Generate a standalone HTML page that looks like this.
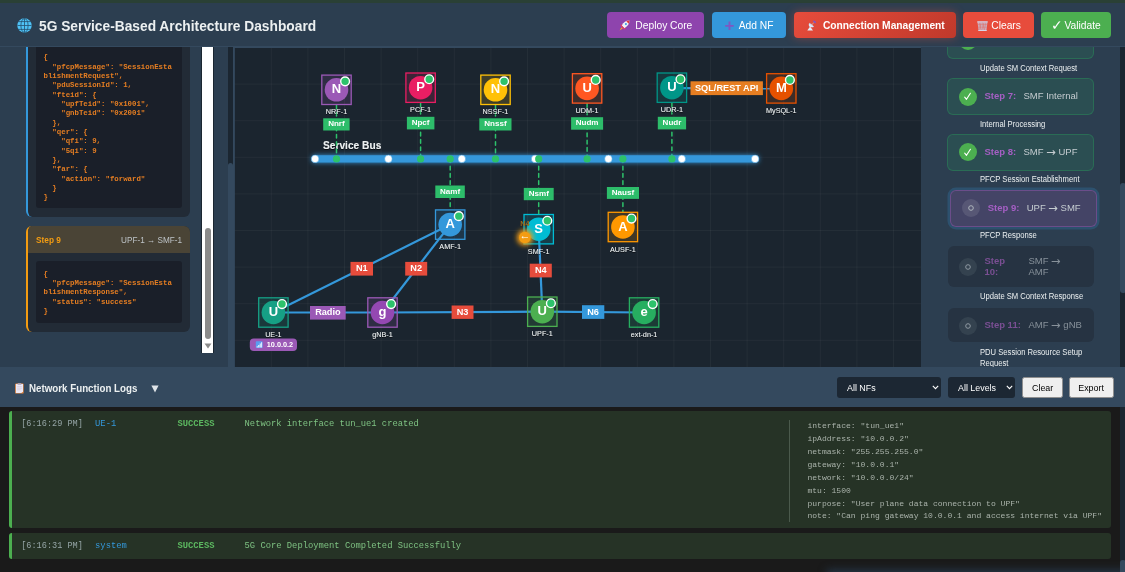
<!DOCTYPE html>
<html lang="en"><head><meta charset="utf-8"><title>5G Service-Based Architecture Dashboard</title>
<style>
*{box-sizing:border-box;margin:0;padding:0}
html,body{width:1125px;height:572px;overflow:hidden;background:#2c3e50;font-family:"Liberation Sans",sans-serif;color:#ecf0f1}
.abs{position:absolute}
#top{left:0;top:0;width:1125px;height:3px;background:#2a4035}
#hdr{left:0;top:3px;width:1125px;height:43px;background:#2c3e50}
#hdrline{left:0;top:46px;width:1125px;height:1px;background:#34495e;z-index:5}
#title{left:39px;top:16px;transform-origin:0 50%;transform:scaleX(0.888);font-size:15.5px;font-weight:bold;color:#ecf0f1;white-space:nowrap;line-height:20px}
.btn{position:absolute;top:12px;height:26px;border-radius:4px;color:#fff;font-size:10.25px;line-height:28.2px;white-space:nowrap;text-align:center}
.plus{color:#7e57c2;font-weight:bold;font-size:17px;line-height:10px;vertical-align:-1.5px;margin-right:2px}
#left{left:0;top:47px;width:233px;height:320px;background:#2c3e50;overflow:hidden}
#canvas{left:233px;top:47px;width:688px;height:320px;background:#1b252f;overflow:hidden}
#right{left:921px;top:47px;width:204px;height:320px;background:#2c3e50;overflow:hidden}
#loghdr{left:0;top:367px;width:1125px;height:40px;background:#34495e}
#logs{left:0;top:407px;width:1125px;height:165px;background:#1a1a1a;overflow:hidden}
.card{position:absolute;left:26px;width:164px;background:#222b36;border-radius:6px;overflow:hidden}
.code{position:absolute;width:145.5px;background:#1a1f29;border-radius:3px}
pre{font-family:"Liberation Mono",monospace;font-weight:bold;font-size:7.38px;line-height:9.35px;color:#e67e22;position:absolute;left:7.5px;white-space:pre}
.step{position:absolute;left:26px;width:147px;height:37px;border-radius:6px;border:1px solid rgba(39,174,96,0.3);background:rgba(39,174,96,0.15)}
.step .ic{position:absolute;left:10.8px;top:8.3px;width:18px;height:18px;border-radius:50%;background:#4caf50}
.step .t1{position:absolute;left:36.5px;top:10.2px;font-size:11px;line-height:14px;font-weight:bold;color:#a55fc4;white-space:nowrap}
.step .t2{position:absolute;left:75.5px;top:10.2px;font-size:11px;line-height:14px;color:#c5ccd0;white-space:nowrap}
.desc{position:absolute;left:58.5px;transform-origin:0 50%;transform:scaleX(0.905);font-size:8.45px;line-height:11px;color:#ecf0f1;white-space:nowrap}
.le{position:absolute;left:9px;width:1102px;background:#263326;border-left:3px solid #4caf50;border-radius:3px}
.lt{position:absolute;font-family:"Liberation Mono",monospace;font-size:8.8px;line-height:10px;white-space:pre}
.ld{position:absolute;font-family:"Liberation Mono",monospace;font-size:8.06px;line-height:12.95px;white-space:pre;color:#aab3ab}
.sel{position:absolute;top:10px;height:21px;background:#1c2733;border-radius:3px;color:#fff;font-size:9.76px;line-height:21px;padding-left:10px}
.sel span,.lb span{display:inline-block;transform-origin:0 50%;transform:scaleX(0.91);white-space:nowrap}
.lb span{transform-origin:50% 50%}
.lb{position:absolute;top:10px;height:21px;background:#efefef;border:1px solid #8f8f8f;border-radius:2.5px;color:#000;font-size:9.76px;line-height:19px;text-align:center}
.step .t1,.step .t2{font-size:9.5px}
.step.act{border:1px solid rgba(155,89,182,0.45);background:rgba(155,89,182,0.22);box-shadow:0 0 0 2.5px rgba(52,152,219,0.22)}
.step.pen{border:none;background:#263342;width:146px}
.step .ic.pend{background:rgba(255,255,255,0.1)}
.step .ic.pend{color:#aeb6bd}
.step.pen .t1{color:#7a4f93}
.step.pen .t2{color:#87919a}
.step.pen .ic.pend{background:#34424f}
.step.pen .ic.pend{color:#8f99a2}
svg text{font-family:"Liberation Sans",sans-serif}
.step u{text-decoration:none;font-family:"DejaVu Sans",sans-serif;font-size:11.5px;line-height:1px;vertical-align:-0.5px}
.step.pen .t1{left:36.6px}
</style></head>
<body>

<div id="top" class="abs"></div>
<div id="hdr" class="abs"></div>
<div id="hdrline" class="abs"></div>
<svg class="abs" style="left:17px;top:17.5px" width="15" height="15" viewBox="0 0 15 15">
<circle cx="7.5" cy="7.5" r="7.2" fill="#4fc3f7"/>
<g stroke="#24506e" stroke-width="0.8" fill="none">
<path d="M1.5 3.6H13.5M0.4 7.5H14.6M1.5 11.4H13.5M7.5 0.5V14.5"/>
<ellipse cx="7.5" cy="7.5" rx="3.6" ry="7"/>
</g></svg>
<div id="title" class="abs">5G Service-Based Architecture Dashboard</div>
<div class="btn" style="left:607px;width:97px;background:#8e44ad;"><svg width="11" height="11" viewBox="0 0 11 11" style="vertical-align:-2.2px"><path d="M2.6 7.3L0.5 10.5L3.7 8.4Z" fill="#f5a623"/><path d="M3.7 4.2L1 5L2.9 6.4ZM6.8 7.3L6 10L4.6 8.1Z" fill="#ea3a60"/><path d="M10.4 0.6C7.5 0.4 4.5 2.2 2.8 5.6L5.4 8.2C8.8 6.5 10.6 3.5 10.4 0.6Z" fill="#eef1f5"/><path d="M2.8 5.6L5.4 8.2L4.5 8.9L2.1 6.5Z" fill="#ea3a60"/><path d="M10.4 0.6C9.3 0.5 8.3 0.8 7.3 1.3L9.7 3.7C10.2 2.7 10.5 1.7 10.4 0.6Z" fill="#e53935"/><circle cx="6.9" cy="4.1" r="1.05" fill="#3f9be6"/></svg>&nbsp;&nbsp;Deploy Core</div>
<div class="btn" style="left:712px;width:74px;background:#3498db;"><span class="plus">+</span> Add NF</div>
<div class="btn" style="left:794px;width:162px;background:linear-gradient(135deg,#e74c3c,#c0392b);box-shadow:0 0 10px rgba(231,76,60,0.42);"><svg width="10" height="12" viewBox="0 0 10 12" style="vertical-align:-2.5px;margin-left:2px"><path d="M0.3 10.6L3.1 6.6L6 10.6Z" fill="#e3ecf8"/><path d="M2 3.2Q0.6 8.4 6.8 7Q5.4 4 2 3.2Z" fill="#d9e6f6"/><path d="M2 3.2Q5.4 4 6.8 7" stroke="#b9cbe6" stroke-width="0.6" fill="none"/><path d="M4.4 5.2L7 2.4" stroke="#d8b4a6" stroke-width="0.8"/><ellipse cx="7.5" cy="1.8" rx="1.7" ry="0.9" transform="rotate(40 7.5 1.8)" fill="#7e57c2"/></svg>&nbsp; <b>Connection Management</b></div>
<div class="btn" style="left:963px;width:70.5px;background:#e74c3c;"><svg width="11" height="10" viewBox="0 0 11 10" style="vertical-align:-1.9px;margin-left:1px;margin-right:-2px"><path d="M0.4 0.6H10.6L9.4 9.8H1.6Z" fill="#c6c4dc" fill-opacity="0.8"/><path d="M0.3 0.9H10.7M1.3 9.5H9.7" stroke="#d6d5e8" stroke-width="1"/><path d="M2.2 1.5L4 8.8M4 1.5L2.6 8.8M5.5 1.5L7.2 8.8M7 1.5L5 8.8M8.8 1.5L7.4 8.8M1 3.6H10M1.2 6.2H9.8" stroke="#e2685c" stroke-width="0.55" stroke-opacity="0.75" fill="none"/></svg>&nbsp; Clears</div>
<div class="btn" style="left:1040.5px;width:70.5px;background:#4caf50;"><span style="font-size:13.5px;line-height:10px;vertical-align:-0.5px;margin-right:-1px">&#10003;</span> Validate</div>

<div id="left" class="abs">
 <div class="card" style="top:-20px;height:189.5px;border-left:2.5px solid #3498db">
  <div class="code" style="top:10px;height:170.5px;left:8px"><pre style="top:16.2px">{
  &quot;pfcpMessage&quot;: &quot;SessionEsta
blishmentRequest&quot;,
  &quot;pduSessionId&quot;: 1,
  &quot;fteid&quot;: {
    &quot;upfTeid&quot;: &quot;0x1001&quot;,
    &quot;gnbTeid&quot;: &quot;0x2001&quot;
  },
  &quot;qer&quot;: {
    &quot;qfi&quot;: 9,
    &quot;5qi&quot;: 9
  },
  &quot;far&quot;: {
    &quot;action&quot;: &quot;forward&quot;
  }
}</pre></div>
 </div>
 <div class="card" style="top:179px;height:105.5px;border-left:2.5px solid #f39c12">
  <div class="abs" style="left:0;top:0;width:164px;height:26.5px;background:#4a4436"></div>
  <div class="abs" style="left:8px;top:7.8px;font-size:9.3px;line-height:12px;font-weight:bold;color:#f39c12;transform-origin:0 50%;transform:scaleX(0.89);white-space:nowrap">Step 9</div>
  <div class="abs" style="right:8px;top:8px;font-size:9px;line-height:12px;color:#bdc3c7;white-space:nowrap;transform-origin:100% 50%;transform:scaleX(0.91)">UPF-1 &rarr; SMF-1</div>
  <div class="code" style="top:35px;height:61.5px;left:8px"><pre style="top:8.5px">{
  &quot;pfcpMessage&quot;: &quot;SessionEsta
blishmentResponse&quot;,
  &quot;status&quot;: &quot;success&quot;
}</pre></div>
 </div>
 <div class="abs" style="left:201px;top:0;width:13px;height:305.5px;background:#fff;border-left:1px solid #1b2631;border-right:1px solid #1b2631"></div>
 <div class="abs" style="left:204.5px;top:181px;width:6px;height:110.5px;background:#8b8b8b;border-radius:3px"></div>
 <svg class="abs" style="left:203.5px;top:296px" width="8" height="6" viewBox="0 0 8 6"><path d="M0.5 0.5H7.5L4 5.5Z" fill="#8b8b8b"/></svg>
 <div class="abs" style="left:227.5px;top:0;width:5.5px;height:320px;background:#1b2631"></div>
 <div class="abs" style="left:227.5px;top:116px;width:5.5px;height:210px;background:#34495e;border-radius:3px"></div>
</div>
<div id="canvas" class="abs"><svg class="abs" style="left:0;top:0" width="688" height="320" viewBox="233 47 688 320">
<defs>
<filter id="glow" filterUnits="userSpaceOnUse" x="295" y="140" width="480" height="40"><feGaussianBlur stdDeviation="2.6" result="b"/><feMerge><feMergeNode in="b"/><feMergeNode in="SourceGraphic"/></feMerge></filter>
<filter id="pglow" x="-200%" y="-200%" width="500%" height="500%"><feGaussianBlur stdDeviation="2.4"/></filter>
<filter id="ts" x="-20%" y="-40%" width="140%" height="180%"><feDropShadow dx="0" dy="0.7" stdDeviation="0.7" flood-color="#000" flood-opacity="0.8"/></filter>
</defs>
<rect x="233" y="47" width="688" height="320" fill="#1b252f"/>
<path d="M271.3 47V367M307.9 47V367M344.5 47V367M381.1 47V367M417.7 47V367M454.3 47V367M490.9 47V367M527.5 47V367M564.1 47V367M600.7 47V367M637.3 47V367M673.9 47V367M710.5 47V367M747.1 47V367M783.7 47V367M820.3 47V367M856.9 47V367M893.5 47V367M234 84.1H921M234 120.7H921M234 157.3H921M234 193.9H921M234 230.5H921M234 267.1H921M234 303.7H921M234 340.3H921" stroke="#ffffff" stroke-opacity="0.055" stroke-width="0.8" fill="none"/>

<rect x="233" y="47" width="1.9" height="320" fill="#34495e"/>
<rect x="233" y="47" width="688" height="1" fill="#34495e"/>
<text x="323" y="149.2" font-size="10.2" font-weight="bold" fill="#ecf0f1" filter="url(#ts)">Service Bus</text>
<path d="M336.5 105.1V158.9" stroke="#2dc26b" stroke-width="1.5" stroke-dasharray="3.66 3.66" stroke-linecap="round" fill="none"/>
<path d="M420.6 103.0V158.9" stroke="#2dc26b" stroke-width="1.5" stroke-dasharray="3.66 3.66" stroke-linecap="round" fill="none"/>
<path d="M495.5 105.1V158.9" stroke="#2dc26b" stroke-width="1.5" stroke-dasharray="3.66 3.66" stroke-linecap="round" fill="none"/>
<path d="M587.1 103.7V158.9" stroke="#2dc26b" stroke-width="1.5" stroke-dasharray="3.66 3.66" stroke-linecap="round" fill="none"/>
<path d="M671.9 103.0V158.9" stroke="#2dc26b" stroke-width="1.5" stroke-dasharray="3.66 3.66" stroke-linecap="round" fill="none"/>
<path d="M450.2 158.9V209.29999999999998" stroke="#2dc26b" stroke-width="1.5" stroke-dasharray="3.66 3.66" stroke-linecap="round" fill="none"/>
<path d="M538.7 158.9V213.89999999999998" stroke="#2dc26b" stroke-width="1.5" stroke-dasharray="3.66 3.66" stroke-linecap="round" fill="none"/>
<path d="M622.9 158.9V211.7" stroke="#2dc26b" stroke-width="1.5" stroke-dasharray="3.66 3.66" stroke-linecap="round" fill="none"/>
<rect x="311.5" y="155.25" width="447.3" height="7.3" rx="3.65" fill="#3498db" filter="url(#glow)"/>
<circle cx="315.1" cy="158.9" r="3.8" fill="#fff" stroke="#3498db" stroke-width="0.5"/>
<circle cx="388.4" cy="158.9" r="3.8" fill="#fff" stroke="#3498db" stroke-width="0.5"/>
<circle cx="461.8" cy="158.9" r="3.8" fill="#fff" stroke="#3498db" stroke-width="0.5"/>
<circle cx="535.1" cy="158.9" r="3.8" fill="#fff" stroke="#3498db" stroke-width="0.5"/>
<circle cx="608.4" cy="158.9" r="3.8" fill="#fff" stroke="#3498db" stroke-width="0.5"/>
<circle cx="681.8" cy="158.9" r="3.8" fill="#fff" stroke="#3498db" stroke-width="0.5"/>
<circle cx="755.1" cy="158.9" r="3.8" fill="#fff" stroke="#3498db" stroke-width="0.5"/>
<circle cx="336.5" cy="158.9" r="3.6" fill="#2dc26b"/>
<circle cx="420.6" cy="158.9" r="3.6" fill="#2dc26b"/>
<circle cx="495.5" cy="158.9" r="3.6" fill="#2dc26b"/>
<circle cx="587.1" cy="158.9" r="3.6" fill="#2dc26b"/>
<circle cx="671.9" cy="158.9" r="3.6" fill="#2dc26b"/>
<circle cx="450.2" cy="158.9" r="3.6" fill="#2dc26b"/>
<circle cx="538.7" cy="158.9" r="3.6" fill="#2dc26b"/>
<circle cx="622.9" cy="158.9" r="3.6" fill="#2dc26b"/>
<path d="M273.4 312.5L450.2 224.6" stroke="#3498db" stroke-width="2.2" fill="none"/>
<path d="M382.5 312.5L450.2 224.6" stroke="#3498db" stroke-width="2.2" fill="none"/>
<path d="M273.4 312.5L382.5 312.5" stroke="#3498db" stroke-width="2.2" fill="none"/>
<path d="M382.5 312.5L542.3 311.7" stroke="#3498db" stroke-width="2.2" fill="none"/>
<path d="M538.7 229.2L542.3 311.7" stroke="#3498db" stroke-width="2.2" fill="none"/>
<path d="M542.3 311.7L644.1 312.5" stroke="#3498db" stroke-width="2.2" fill="none"/>
<path d="M671.9 88.2L781.3 88.4" stroke="#3498db" stroke-width="2.2" fill="none"/>
<rect x="321.8" y="75.1" width="29.4" height="29.4" fill="#9b59b6" fill-opacity="0.16" stroke="#9b59b6" stroke-width="1.3"/>
<circle cx="336.5" cy="89.8" r="11.8" fill="#9b59b6"/>
<text x="336.5" y="93.4" font-size="13" font-weight="bold" fill="#fff" text-anchor="middle">N</text>
<circle cx="345.1" cy="81.35" r="4.4" fill="#2dc26b" stroke="#fff" stroke-width="1.4"/>
<text x="336.5" y="114.3" font-size="7.25" fill="#ecf0f1" text-anchor="middle" filter="url(#ts)">NRF-1</text>
<rect x="405.9" y="73.0" width="29.4" height="29.4" fill="#e91e63" fill-opacity="0.16" stroke="#e91e63" stroke-width="1.3"/>
<circle cx="420.6" cy="87.7" r="11.8" fill="#e91e63"/>
<text x="420.6" y="91.3" font-size="13" font-weight="bold" fill="#fff" text-anchor="middle">P</text>
<circle cx="429.2" cy="79.25" r="4.4" fill="#2dc26b" stroke="#fff" stroke-width="1.4"/>
<text x="420.6" y="112.2" font-size="7.25" fill="#ecf0f1" text-anchor="middle" filter="url(#ts)">PCF-1</text>
<rect x="480.8" y="75.1" width="29.4" height="29.4" fill="#ffc107" fill-opacity="0.16" stroke="#ffc107" stroke-width="1.3"/>
<circle cx="495.5" cy="89.8" r="11.8" fill="#ffc107"/>
<text x="495.5" y="93.4" font-size="13" font-weight="bold" fill="#fff" text-anchor="middle">N</text>
<circle cx="504.1" cy="81.35" r="4.4" fill="#2dc26b" stroke="#fff" stroke-width="1.4"/>
<text x="495.5" y="114.3" font-size="7.25" fill="#ecf0f1" text-anchor="middle" filter="url(#ts)">NSSF-1</text>
<rect x="572.4" y="73.7" width="29.4" height="29.4" fill="#ff5722" fill-opacity="0.16" stroke="#ff5722" stroke-width="1.3"/>
<circle cx="587.1" cy="88.4" r="11.8" fill="#ff5722"/>
<text x="587.1" y="92.0" font-size="13" font-weight="bold" fill="#fff" text-anchor="middle">U</text>
<circle cx="595.7" cy="79.95" r="4.4" fill="#2dc26b" stroke="#fff" stroke-width="1.4"/>
<text x="587.1" y="112.9" font-size="7.25" fill="#ecf0f1" text-anchor="middle" filter="url(#ts)">UDM-1</text>
<rect x="657.2" y="73.0" width="29.4" height="29.4" fill="#009688" fill-opacity="0.16" stroke="#009688" stroke-width="1.3"/>
<circle cx="671.9" cy="87.7" r="11.8" fill="#009688"/>
<text x="671.9" y="91.3" font-size="13" font-weight="bold" fill="#fff" text-anchor="middle">U</text>
<circle cx="680.5" cy="79.25" r="4.4" fill="#2dc26b" stroke="#fff" stroke-width="1.4"/>
<text x="671.9" y="112.2" font-size="7.25" fill="#ecf0f1" text-anchor="middle" filter="url(#ts)">UDR-1</text>
<rect x="766.6" y="73.7" width="29.4" height="29.4" fill="#e65100" fill-opacity="0.16" stroke="#e65100" stroke-width="1.3"/>
<circle cx="781.3" cy="88.4" r="11.8" fill="#e65100"/>
<text x="781.3" y="92.0" font-size="13" font-weight="bold" fill="#fff" text-anchor="middle">M</text>
<circle cx="789.9" cy="79.95" r="4.4" fill="#2dc26b" stroke="#fff" stroke-width="1.4"/>
<text x="781.3" y="112.9" font-size="7.25" fill="#ecf0f1" text-anchor="middle" filter="url(#ts)">MySQL-1</text>
<rect x="435.5" y="209.9" width="29.4" height="29.4" fill="#3498db" fill-opacity="0.16" stroke="#3498db" stroke-width="1.3"/>
<circle cx="450.2" cy="224.6" r="11.8" fill="#3498db"/>
<text x="450.2" y="228.2" font-size="13" font-weight="bold" fill="#fff" text-anchor="middle">A</text>
<circle cx="458.8" cy="216.15" r="4.4" fill="#2dc26b" stroke="#fff" stroke-width="1.4"/>
<text x="450.2" y="249.1" font-size="7.25" fill="#ecf0f1" text-anchor="middle" filter="url(#ts)">AMF-1</text>
<rect x="524.0" y="214.5" width="29.4" height="29.4" fill="#00bcd4" fill-opacity="0.16" stroke="#00bcd4" stroke-width="1.3"/>
<circle cx="538.7" cy="229.2" r="11.8" fill="#00bcd4"/>
<text x="538.7" y="232.8" font-size="13" font-weight="bold" fill="#fff" text-anchor="middle">S</text>
<circle cx="547.3" cy="220.75" r="4.4" fill="#2dc26b" stroke="#fff" stroke-width="1.4"/>
<text x="538.7" y="253.7" font-size="7.25" fill="#ecf0f1" text-anchor="middle" filter="url(#ts)">SMF-1</text>
<rect x="608.2" y="212.3" width="29.4" height="29.4" fill="#ff9800" fill-opacity="0.16" stroke="#ff9800" stroke-width="1.3"/>
<circle cx="622.9" cy="227.0" r="11.8" fill="#ff9800"/>
<text x="622.9" y="230.6" font-size="13" font-weight="bold" fill="#fff" text-anchor="middle">A</text>
<circle cx="631.5" cy="218.55" r="4.4" fill="#2dc26b" stroke="#fff" stroke-width="1.4"/>
<text x="622.9" y="251.5" font-size="7.25" fill="#ecf0f1" text-anchor="middle" filter="url(#ts)">AUSF-1</text>
<rect x="258.7" y="297.8" width="29.4" height="29.4" fill="#16a085" fill-opacity="0.16" stroke="#16a085" stroke-width="1.3"/>
<circle cx="273.4" cy="312.5" r="11.8" fill="#16a085"/>
<text x="273.4" y="316.1" font-size="13" font-weight="bold" fill="#fff" text-anchor="middle">U</text>
<circle cx="282.0" cy="304.05" r="4.4" fill="#2dc26b" stroke="#fff" stroke-width="1.4"/>
<text x="273.4" y="337.0" font-size="7.25" fill="#ecf0f1" text-anchor="middle" filter="url(#ts)">UE-1</text>
<rect x="367.8" y="297.8" width="29.4" height="29.4" fill="#9b59b6" fill-opacity="0.16" stroke="#9b59b6" stroke-width="1.3"/>
<circle cx="382.5" cy="312.5" r="11.8" fill="#9448b2"/>
<text x="382.5" y="316.1" font-size="13" font-weight="bold" fill="#fff" text-anchor="middle">g</text>
<circle cx="391.1" cy="304.05" r="4.4" fill="#2dc26b" stroke="#fff" stroke-width="1.4"/>
<text x="382.5" y="337.0" font-size="7.25" fill="#ecf0f1" text-anchor="middle" filter="url(#ts)">gNB-1</text>
<rect x="527.6" y="297.0" width="29.4" height="29.4" fill="#4caf50" fill-opacity="0.16" stroke="#4caf50" stroke-width="1.3"/>
<circle cx="542.3" cy="311.7" r="11.8" fill="#4caf50"/>
<text x="542.3" y="315.3" font-size="13" font-weight="bold" fill="#fff" text-anchor="middle">U</text>
<circle cx="550.9" cy="303.25" r="4.4" fill="#2dc26b" stroke="#fff" stroke-width="1.4"/>
<text x="542.3" y="336.2" font-size="7.25" fill="#ecf0f1" text-anchor="middle" filter="url(#ts)">UPF-1</text>
<rect x="629.4" y="297.8" width="29.4" height="29.4" fill="#27ae60" fill-opacity="0.16" stroke="#27ae60" stroke-width="1.3"/>
<circle cx="644.1" cy="312.5" r="11.8" fill="#27ae60"/>
<text x="644.1" y="316.1" font-size="13" font-weight="bold" fill="#fff" text-anchor="middle">e</text>
<circle cx="652.7" cy="304.05" r="4.4" fill="#2dc26b" stroke="#fff" stroke-width="1.4"/>
<text x="644.1" y="337.0" font-size="7.25" fill="#ecf0f1" text-anchor="middle" filter="url(#ts)">ext-dn-1</text>
<rect x="323.2" y="118.3" width="26.4" height="12.2" fill="#2dbd6a"/>
<text x="336.4" y="126.4" font-size="8.05" font-weight="bold" fill="#fff" text-anchor="middle">Nnrf</text>
<rect x="406.9" y="116.8" width="27.5" height="12.6" fill="#2dbd6a"/>
<text x="420.6" y="125.1" font-size="8.05" font-weight="bold" fill="#fff" text-anchor="middle">Npcf</text>
<rect x="479.3" y="118.3" width="32.2" height="12.2" fill="#2dbd6a"/>
<text x="495.4" y="126.4" font-size="8.05" font-weight="bold" fill="#fff" text-anchor="middle">Nnssf</text>
<rect x="571.1" y="117.2" width="32.0" height="12.5" fill="#2dbd6a"/>
<text x="587.1" y="125.4" font-size="8.05" font-weight="bold" fill="#fff" text-anchor="middle">Nudm</text>
<rect x="657.8" y="116.8" width="28.3" height="12.6" fill="#2dbd6a"/>
<text x="672.0" y="125.1" font-size="8.05" font-weight="bold" fill="#fff" text-anchor="middle">Nudr</text>
<rect x="435.3" y="185.5" width="29.5" height="12.5" fill="#2dbd6a"/>
<text x="450.1" y="193.7" font-size="8.05" font-weight="bold" fill="#fff" text-anchor="middle">Namf</text>
<rect x="523.8" y="187.9" width="29.9" height="12.3" fill="#2dbd6a"/>
<text x="538.8" y="196.0" font-size="8.05" font-weight="bold" fill="#fff" text-anchor="middle">Nsmf</text>
<rect x="606.9" y="187.0" width="32.1" height="11.9" fill="#2dbd6a"/>
<text x="623.0" y="194.9" font-size="8.05" font-weight="bold" fill="#fff" text-anchor="middle">Nausf</text>
<rect x="350.5" y="261.9" width="22.5" height="13.7" fill="#e74c3c"/>
<text x="361.8" y="271.2" font-size="9.2" font-weight="bold" fill="#fff" text-anchor="middle">N1</text>
<rect x="405.2" y="261.9" width="22.0" height="13.7" fill="#e74c3c"/>
<text x="416.2" y="271.2" font-size="9.2" font-weight="bold" fill="#fff" text-anchor="middle">N2</text>
<rect x="451.6" y="305.5" width="21.9" height="13.4" fill="#e74c3c"/>
<text x="462.6" y="314.6" font-size="9.2" font-weight="bold" fill="#fff" text-anchor="middle">N3</text>
<rect x="529.7" y="263.7" width="22.1" height="13.7" fill="#e74c3c"/>
<text x="540.8" y="273.0" font-size="9.2" font-weight="bold" fill="#fff" text-anchor="middle">N4</text>
<rect x="582" y="305.2" width="22.3" height="13.7" fill="#3498db"/>
<text x="593.1" y="314.5" font-size="9.2" font-weight="bold" fill="#fff" text-anchor="middle">N6</text>
<rect x="310" y="306" width="35.7" height="13.6" fill="#9b59b6"/>
<text x="327.9" y="315.2" font-size="9.2" font-weight="bold" fill="#fff" text-anchor="middle">Radio</text>
<rect x="690.5" y="81.3" width="72.4" height="13.8" fill="#e67e22"/>
<text x="726.7" y="90.6" font-size="9.2" font-weight="bold" fill="#fff" text-anchor="middle">SQL/REST API</text>
<rect x="249.8" y="338.5" width="47.2" height="12.6" rx="4" fill="#9b59b6"/>
<rect x="255.8" y="341.3" width="6.8" height="6.8" rx="0.8" fill="#5a9df0"/><path d="M256.7 347.4V346.2H257.8V347.4ZM258.2 347.4V345H259.3V347.4ZM259.7 347.4V343.6H260.8V347.4ZM261.1 347.4V342.2H262.1V347.4Z" fill="#e6f0ff"/>
<text x="266.8" y="347.2" font-size="7.3" font-weight="bold" fill="#fff">10.0.0.2</text>
<circle cx="524.9" cy="237.5" r="8" fill="#f39c12" filter="url(#pglow)"/>
<circle cx="524.9" cy="237.5" r="5.8" fill="#f39c12"/>
<text x="524.9" y="239.4" font-size="10.8" font-weight="bold" fill="#fff" text-anchor="middle">&#8592;</text>
<text x="524.9" y="226.2" font-size="7.3" font-weight="bold" fill="#9c6a18" text-anchor="middle">N4</text>
</svg></div>
<div id="right" class="abs">
<div class="step" style="top:-24.7px"><div class="ic"><svg class="abs" style="left:4.5px;top:4.5px" width="9" height="9" viewBox="0 0 9 9"><path d="M1.7 5.2L3.5 7.3L7.4 1.3" stroke="#fff" stroke-width="1.15" fill="none" stroke-linecap="round" stroke-linejoin="round"/></svg></div><div class="t1">Step 6:</div><div class="t2">AMF <u>&rarr;</u> SMF</div></div>
<div class="desc" style="top:16px">Update SM Context Request</div>
<div class="step" style="top:31.3px"><div class="ic"><svg class="abs" style="left:4.5px;top:4.5px" width="9" height="9" viewBox="0 0 9 9"><path d="M1.7 5.2L3.5 7.3L7.4 1.3" stroke="#fff" stroke-width="1.15" fill="none" stroke-linecap="round" stroke-linejoin="round"/></svg></div><div class="t1">Step 7:</div><div class="t2">SMF Internal</div></div>
<div class="desc" style="top:71.6px">Internal Processing</div>
<div class="step" style="top:87px"><div class="ic"><svg class="abs" style="left:4.5px;top:4.5px" width="9" height="9" viewBox="0 0 9 9"><path d="M1.7 5.2L3.5 7.3L7.4 1.3" stroke="#fff" stroke-width="1.15" fill="none" stroke-linecap="round" stroke-linejoin="round"/></svg></div><div class="t1">Step 8:</div><div class="t2">SMF <u>&rarr;</u> UPF</div></div>
<div class="desc" style="top:127.2px">PFCP Session Establishment</div>
<div class="step act" style="top:142.6px;left:29.2px"><div class="ic pend"><svg class="abs" style="left:5px;top:5px" width="8" height="8" viewBox="0 0 8 8"><circle cx="4" cy="4" r="2.3" fill="none" stroke="currentColor" stroke-width="1"/></svg></div><div class="t1">Step 9:</div><div class="t2">UPF <u>&rarr;</u> SMF</div></div>
<div class="desc" style="top:182.7px">PFCP Response</div>
<div class="step pen" style="top:199px;height:40.6px;left:26.8px"><div class="ic pend" style="top:12.2px"><svg class="abs" style="left:5px;top:5px" width="8" height="8" viewBox="0 0 8 8"><circle cx="4" cy="4" r="2.3" fill="none" stroke="currentColor" stroke-width="1"/></svg></div><div class="t1" style="top:8.5px;line-height:11.4px">Step<br>10:</div><div class="t2" style="top:8.8px;line-height:11.4px;left:80.6px">SMF <u>&rarr;</u><br>AMF</div></div>
<div class="desc" style="top:244.3px">Update SM Context Response</div>
<div class="step pen" style="top:260.9px;height:34.5px;left:26.8px"><div class="ic pend" style="top:9px"><svg class="abs" style="left:5px;top:5px" width="8" height="8" viewBox="0 0 8 8"><circle cx="4" cy="4" r="2.3" fill="none" stroke="currentColor" stroke-width="1"/></svg></div><div class="t1" style="top:10px">Step 11:</div><div class="t2" style="top:10px;left:80.6px">AMF <u>&rarr;</u> gNB</div></div>
<div class="desc" style="top:299.8px;line-height:10.9px;white-space:normal;width:120px">PDU Session Resource Setup Request</div>
<div class="abs" style="left:198.7px;top:0;width:6px;height:320px;background:#1b2631"></div>
<div class="abs" style="left:198.7px;top:135.7px;width:6px;height:110.5px;background:#34495e;border-radius:3px"></div>
</div>
<div id="loghdr" class="abs"><svg class="abs" style="left:14.8px;top:15.6px" width="9" height="11" viewBox="0 0 9 11"><rect x="0.2" y="0.6" width="8.4" height="10" rx="0.9" fill="#ef8b3e"/><path d="M0.9 1.1H8V8.2L6.4 10H0.9Z" fill="#ece8f4"/><rect x="2.6" y="0.2" width="3.8" height="1.7" rx="0.5" fill="#b7b1c8"/><path d="M2.2 3.6H6.8M2.2 5.2H6.8M2.2 6.8H5.6" stroke="#cfc9dc" stroke-width="0.7"/></svg>
<div class="abs" style="left:28.6px;top:13.5px;font-size:11px;line-height:15px;font-weight:bold;color:#ecf0f1;white-space:nowrap;transform-origin:0 50%;transform:scaleX(0.887)" id="logtitle">Network Function Logs</div>
<svg class="abs" style="left:150.5px;top:17.5px" width="8" height="8" viewBox="0 0 8 8"><path d="M0.4 0.6H7.6L4 7.4Z" fill="#dfe4e8"/></svg>
<div class="sel" style="left:836.5px;width:104.5px"><span>All NFs</span><svg class="abs" style="right:2.5px;top:8px" width="7" height="5" viewBox="0 0 7 5"><path d="M0.8 0.9L3.5 3.7L6.2 0.9" stroke="#fff" stroke-width="1.1" fill="none"/></svg></div>
<div class="sel" style="left:948px;width:67px"><span>All Levels</span><svg class="abs" style="right:2.5px;top:8px" width="7" height="5" viewBox="0 0 7 5"><path d="M0.8 0.9L3.5 3.7L6.2 0.9" stroke="#fff" stroke-width="1.1" fill="none"/></svg></div>
<div class="lb" style="left:1021.8px;width:41px"><span>Clear</span></div>
<div class="lb" style="left:1068.7px;width:45px"><span>Export</span></div>
</div>
<div id="logs" class="abs">
<div class="le" style="top:4px;height:117px">
 <div class="lt" style="left:9.2px;top:7.5px;color:#95a5a6;font-size:8.57px">[6:16:29 PM]</div>
 <div class="lt" style="left:83.1px;top:7.5px;color:#3498db">UE-1</div>
 <div class="lt" style="left:165.5px;top:7.5px;color:#5cb860;font-weight:bold">SUCCESS</div>
 <div class="lt" style="left:232.6px;top:7.5px;color:#7fc383">Network interface tun_ue1 created</div>
 <div class="abs" style="left:776.5px;top:9px;width:1px;height:102px;background:#4b5a4c"></div>
 <div class="ld" style="left:795.4px;top:8.8px">interface: &quot;tun_ue1&quot;
ipAddress: &quot;10.0.0.2&quot;
netmask: &quot;255.255.255.0&quot;
gateway: &quot;10.0.0.1&quot;
network: &quot;10.0.0.0/24&quot;
mtu: 1500
purpose: &quot;User plane data connection to UPF&quot;
note: &quot;Can ping gateway 10.0.0.1 and access internet via UPF&quot;</div>
</div>
<div class="le" style="top:126.2px;height:25.7px">
 <div class="lt" style="left:9.2px;top:7.8px;color:#95a5a6;font-size:8.57px">[6:16:31 PM]</div>
 <div class="lt" style="left:83.1px;top:7.8px;color:#3498db">system</div>
 <div class="lt" style="left:165.5px;top:7.8px;color:#5cb860;font-weight:bold">SUCCESS</div>
 <div class="lt" style="left:232.6px;top:7.8px;color:#7fc383">5G Core Deployment Completed Successfully</div>
</div>
<div class="abs" style="left:832px;top:168px;width:300px;height:10px;background:#26394c;box-shadow:0 0 9px 5px rgba(38,57,76,0.95)"></div>
<div class="abs" style="left:1119.7px;top:0;width:6px;height:165px;background:#1b2631"></div>
<div class="abs" style="left:1119.7px;top:153px;width:6px;height:20px;background:#34495e;border-radius:3px"></div>
</div>

</body></html>
